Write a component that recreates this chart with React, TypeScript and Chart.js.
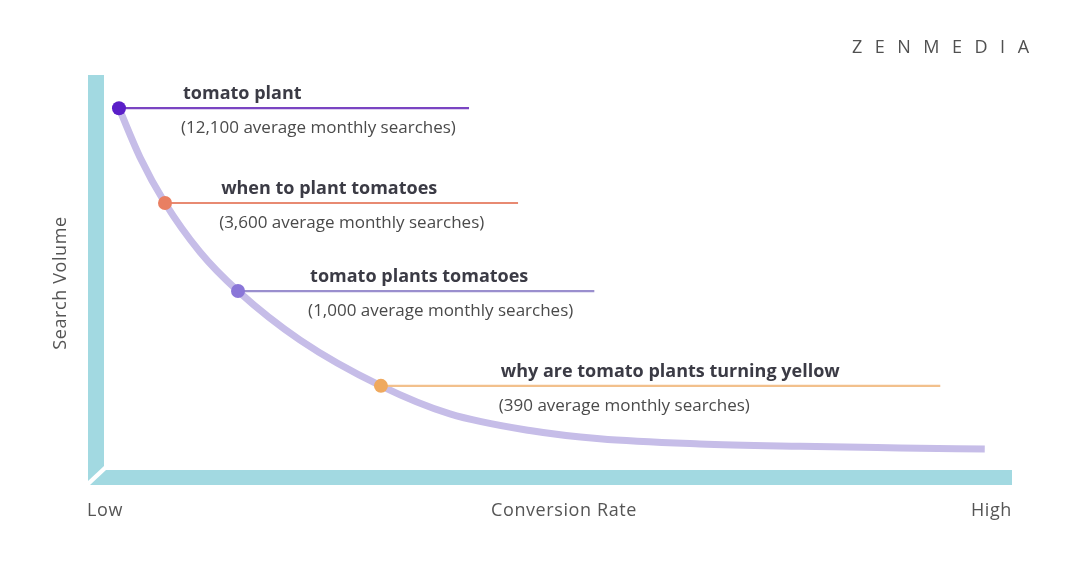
import React, { useEffect, useRef } from "react";
import { Chart, registerables } from "chart.js";

Chart.register(...registerables);

// Curve: conversion rate (x, 0 = low .. 100 = high) vs search volume (y, relative)
const conversion = [1.65, 3.96, 6.72, 10.57, 14.76, 21.6, 30.5, 38.1, 46.9, 54.6, 65.6, 76.7, 87.7, 97.0];
const volume = [91.6, 79.2, 67.6, 55.2, 45.3, 32.9, 21.3, 14.2, 10.0, 7.9, 6.6, 6.0, 5.6, 5.3];

// Keywords placed on the curve
const keywords = [
  "tomato plant",
  "when to plant tomatoes",
  "tomato plants tomatoes",
  "why are tomato plants turning yellow",
];
const monthlySearches = ["12,100", "3,600", "1,000", "390"];
const keywordX = [1.65, 6.72, 14.76, 30.5];
const keywordY = [91.6, 67.6, 45.3, 21.3];
const leaderEnd = [40.2, 45.6, 54.0, 92.1];
const labelX = [8.7, 12.9, 22.7, 43.7];

const pointColors = ["#5a1ec8", "#e97f62", "#8a76d8", "#efa95e"];
const leaderColors = ["#7a45c2", "#e88a72", "#9a8fce", "#f2c08c"];

const FONT = "'Open Sans', Lato, sans-serif";

export default function App() {
  const ref = useRef<HTMLCanvasElement | null>(null);

  useEffect(() => {
    let chart: Chart | null = null;
    let cancelled = false;

    const decor = {
      id: "decor",
      beforeDatasetsDraw(c: any) {
        const ctx = c.ctx as CanvasRenderingContext2D;
        const a = c.chartArea;
        ctx.save();
        ctx.fillStyle = "#a2d9e1";
        // vertical axis bar
        ctx.beginPath();
        ctx.moveTo(a.left - 16, a.top);
        ctx.lineTo(a.left, a.top);
        ctx.lineTo(a.left, a.bottom - 4);
        ctx.lineTo(a.left - 16, a.bottom + 11);
        ctx.closePath();
        ctx.fill();
        // horizontal axis bar
        ctx.beginPath();
        ctx.moveTo(a.left + 2, a.bottom);
        ctx.lineTo(a.right, a.bottom);
        ctx.lineTo(a.right, a.bottom + 15);
        ctx.lineTo(a.left - 14, a.bottom + 15);
        ctx.closePath();
        ctx.fill();

        // axis labels
        ctx.fillStyle = "#555555";
        ctx.font = `18px ${FONT}`;
        (ctx as any).letterSpacing = "0.6px";
        ctx.textBaseline = "middle";
        ctx.textAlign = "left";
        ctx.fillText("Low", a.left - 17, a.bottom + 41);
        ctx.textAlign = "center";
        ctx.fillText("Conversion Rate", 564, a.bottom + 41);
        ctx.textAlign = "right";
        ctx.fillText("High", a.right, a.bottom + 41);

        ctx.save();
        ctx.translate(61, 283);
        ctx.rotate(-Math.PI / 2);
        ctx.textAlign = "center";
        ctx.fillText("Search Volume", 0, 0);
        ctx.restore();

        // brand
        ctx.font = `18px ${FONT}`;
        ctx.fillStyle = "#505050";
        ctx.textAlign = "left";
        (ctx as any).letterSpacing = "12.5px";
        ctx.fillText("ZENMEDIA", 852, 48);
        (ctx as any).letterSpacing = "0px";
        ctx.restore();
      },
      afterDatasetsDraw(c: any) {
        const ctx = c.ctx as CanvasRenderingContext2D;
        const xs = c.scales.x;
        const ys = c.scales.y;
        ctx.save();
        ctx.textBaseline = "middle";
        ctx.textAlign = "left";
        keywords.forEach((k, i) => {
          const x = xs.getPixelForValue(labelX[i]);
          const y = ys.getPixelForValue(keywordY[i]);
          ctx.font = `bold 18px ${FONT}`;
          ctx.fillStyle = "#3b3b45";
          ctx.fillText(k, x, y - 14);
          ctx.font = `17px ${FONT}`;
          ctx.fillStyle = "#4a4a4a";
          ctx.fillText(`(${monthlySearches[i]} average monthly searches)`, x - 2, y + 20);
        });
        ctx.restore();
      },
    };

    const datasets: any[] = [];
    datasets.push({
      type: "scatter",
      data: keywordX.map((x, i) => ({ x, y: keywordY[i] })),
      pointRadius: 7,
      pointHoverRadius: 7,
      pointBorderWidth: 0,
      pointBackgroundColor: pointColors,
      backgroundColor: pointColors,
      clip: false,
    });
    keywordX.forEach((x, i) => {
      datasets.push({
        type: "line",
        data: [
          { x, y: keywordY[i] },
          { x: leaderEnd[i], y: keywordY[i] },
        ],
        borderColor: leaderColors[i],
        borderWidth: 2.2,
        pointRadius: 0,
        clip: false,
      });
    });
    datasets.push({
      type: "line",
      data: conversion.map((x, i) => ({ x, y: volume[i] })),
      borderColor: "#c6bde8",
      borderWidth: 7,
      borderCapStyle: "butt",
      cubicInterpolationMode: "monotone",
      pointRadius: 0,
      clip: false,
    });

    const build = () => {
      if (cancelled || !ref.current) return;
      chart = new Chart(ref.current, {
        type: "line",
        data: { datasets },
        options: {
          responsive: false,
          animation: false,
          events: [],
          layout: { padding: { left: 104, right: 68, top: 75, bottom: 91 } },
          plugins: { legend: { display: false }, tooltip: { enabled: false } },
          scales: {
            x: { type: "linear", min: 0, max: 100, display: false },
            y: { type: "linear", min: 0, max: 100, display: false },
          },
        },
        plugins: [decor],
      });
    };

    const fontsReady = (document as any).fonts
      ? Promise.all([
          (document as any).fonts.load(`bold 18px 'Open Sans'`),
          (document as any).fonts.load(`17px 'Open Sans'`),
        ]).catch(() => null)
      : Promise.resolve();
    fontsReady.then(build);

    return () => {
      cancelled = true;
      if (chart) chart.destroy();
    };
  }, []);

  return (
    <div style={{ position: "fixed", left: 0, top: 0, width: 1080, height: 561, background: "#ffffff" }}>
      <canvas ref={ref} width={1080} height={561} style={{ width: 1080, height: 561, display: "block" }} />
    </div>
  );
}
